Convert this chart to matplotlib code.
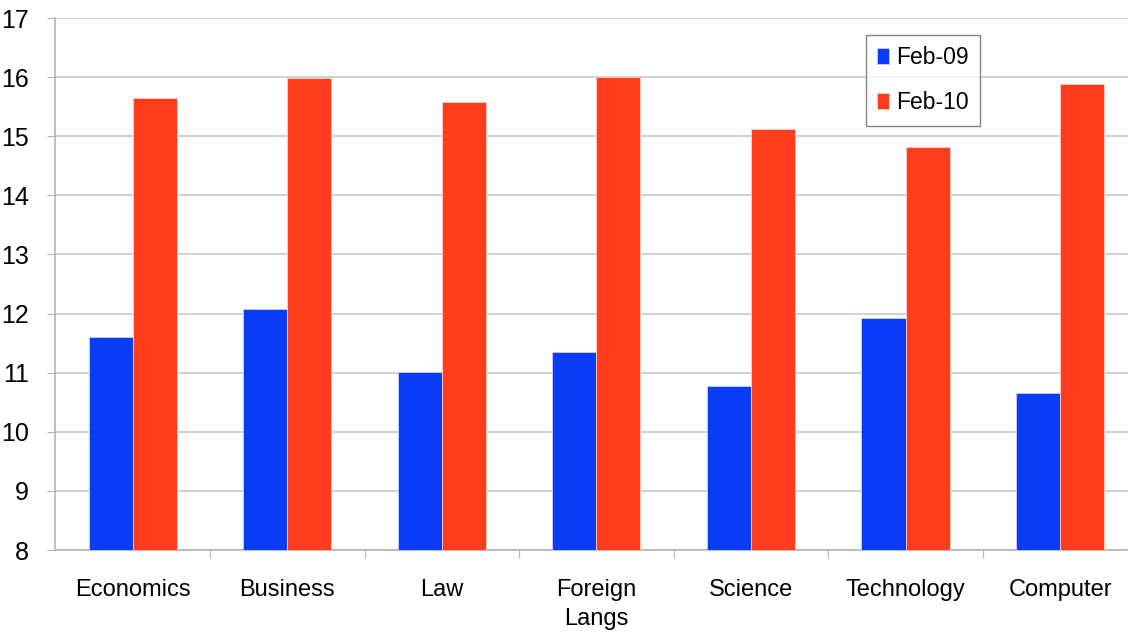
import matplotlib.pyplot as plt
import numpy as np

# data
categories = ['Economics', 'Business', 'Law', 'Foreign\nLangs', 'Science', 'Technology', 'Computer']
feb09 = [11.6, 12.08, 11.01, 11.35, 10.77, 11.92, 10.65]
feb10 = [15.64, 15.98, 15.58, 16.0, 15.12, 14.82, 15.88]
series_names = ['Feb-09', 'Feb-10']

blue = '#0a3cf6'
orange = '#ff3d1c'

plt.rcParams['font.family'] = ['Liberation Sans', 'DejaVu Sans']

fig = plt.figure(figsize=(11.28, 6.34), dpi=100)
ax = fig.add_axes([55.4/1128, 1-550/634, 1082/1128, 532/634])

x = np.arange(len(categories))
w = 0.285
ax.bar(x - w/2, feb09, w, color=blue, edgecolor='#c8d0ff', linewidth=0.6, label=series_names[0], zorder=3)
ax.bar(x + w/2, feb10, w, color=orange, edgecolor='#ffd0c8', linewidth=0.6, label=series_names[1], zorder=3)

ax.set_ylim(8, 17)
ax.set_xlim(-0.5, len(categories) - 0.5)
ax.set_yticks(range(8, 18))
ax.yaxis.grid(True, color='#c8c8c8', linewidth=1.2, zorder=0)

# ticks between categories, labels at centres
ax.set_xticks(np.arange(0.5, len(categories) - 0.5, 1))
ax.set_xticklabels([])
ax.set_xticks(x, minor=True)
ax.set_xticklabels(categories, minor=True, linespacing=1.4)
ax.tick_params(axis='x', which='major', length=6, color='#b4b4b4', direction='out')
ax.tick_params(axis='x', which='minor', length=0, pad=21, labelsize=17)
ax.tick_params(axis='y', length=6, color='#b4b4b4', pad=13, labelsize=18)

for s in ['top', 'right']:
    ax.spines[s].set_visible(False)
for s in ['left', 'bottom']:
    ax.spines[s].set_color('#b4b4b4')
    ax.spines[s].set_linewidth(1.2)

leg = fig.legend(loc='upper left', bbox_to_anchor=(866/1128, 1-35/634), fontsize=16.5,
                 frameon=True, fancybox=False, handlelength=0.5, handleheight=0.7,
                 handletextpad=0.3, borderpad=0.5, labelspacing=0.95, borderaxespad=0)
leg.get_frame().set_edgecolor('#666666')
leg.get_frame().set_linewidth(1.0)

fig.savefig('out.png', dpi=100)
